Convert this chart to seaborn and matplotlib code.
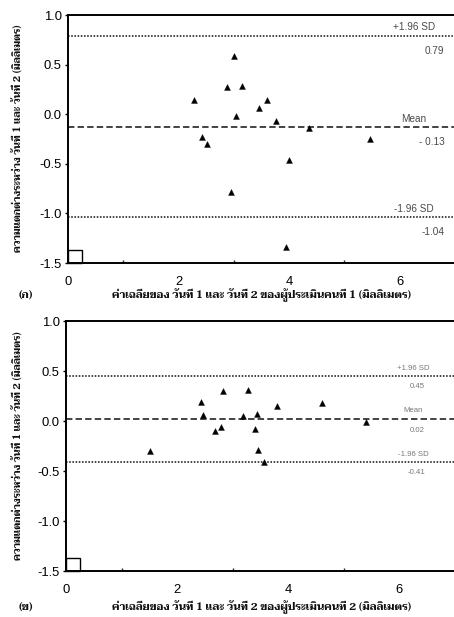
import matplotlib
matplotlib.use("Agg")
import matplotlib.pyplot as plt
from matplotlib import font_manager as fm
from matplotlib.patches import Rectangle
import seaborn as sns
import pandas as pd

# ---------------- data ----------------
mean1 = [2.28, 2.42, 2.51, 2.87, 3.00, 3.04, 3.15, 3.45, 3.60, 3.76, 4.36, 5.46, 3.99, 2.94, 3.94]
diff1 = [0.14, -0.23, -0.30, 0.27, 0.59, -0.02, 0.28, 0.06, 0.14, -0.07, -0.14, -0.25, -0.46, -0.78, -1.34]
lines1 = [0.79, -0.13, -1.04]
line_labels1 = ["+1.96 SD", "Mean", "-1.96 SD"]
value_labels1 = ["0.79", "- 0.13", "-1.04"]

mean2 = [1.51, 2.43, 2.47, 2.69, 2.79, 2.82, 3.19, 3.28, 3.41, 3.44, 3.46, 3.56, 3.80, 4.62, 5.41]
diff2 = [-0.30, 0.19, 0.06, -0.10, -0.06, 0.30, 0.05, 0.31, -0.08, 0.07, -0.29, -0.41, 0.15, 0.18, -0.01]
lines2 = [0.45, 0.02, -0.41]
line_labels2 = ["+1.96 SD", "Mean", "-1.96 SD"]
value_labels2 = ["0.45", "0.02", "-0.41"]

xticks = [0, 2, 4, 6]
yticks = [1.0, 0.5, 0.0, -0.5, -1.0, -1.5]
ylabel = "ความแตกต่างระหว่าง วันที่ 1 และ วันที่ 2 (มิลลิเมตร)"
xlabel1 = "ค่าเฉลี่ยของ วันที่ 1 และ วันที่ 2 ของผู้ประเมินคนที่ 1 (มิลลิเมตร)"
xlabel2 = "ค่าเฉลี่ยของ วันที่ 1 และ วันที่ 2 ของผู้ประเมินคนที่ 2 (มิลลิเมตร)"
panel_labels = ["(ก)", "(ข)"]

# ---------------- style ----------------
sns.set_theme(style="white")
plt.rcParams["font.family"] = ["Liberation Sans", "DejaVu Sans"]

names = {f.name for f in fm.fontManager.ttflist}
thai_font = None
for cand in ["Taviraj", "Trirong", "Sarabun", "Noto Serif Thai", "Pridi", "Noto Sans Thai",
             "Chonburi", "Athiti", "Bai Jamjuree", "Chakra Petch"]:
    if cand in names:
        thai_font = cand
        break
thai_family = [thai_font, "DejaVu Sans"] if thai_font else ["DejaVu Sans"]

W, H = 454, 617
fig = plt.figure(figsize=(W / 100, H / 100), dpi=100)
fig.patch.set_facecolor("white")

ax1 = fig.add_axes([68 / W, (H - 263) / H, 387 / W, 248 / H])
ax2 = fig.add_axes([66 / W, (H - 571) / H, 388.5 / W, 250 / H])


def draw_panel(ax, xs, ys, lines, llabels, vlabels, top):
    df = pd.DataFrame({"x": xs, "y": ys})
    sns.scatterplot(data=df, x="x", y="y", ax=ax, marker="^", s=18,
                    color="black", edgecolor="black", linewidth=0.3, zorder=3)
    styles = [(0, (1, 1)), (0, (4, 2)), (0, (1, 1))]
    for val, ls in zip(lines, styles):
        ax.axhline(val, color="#1a1a1a", lw=1.15, ls=ls, zorder=2)
    tcol = "#4a4a4a" if top else "#777777"
    fs = 7.2 if top else 5.6
    up = 8.5 if top else 8
    down = 15 if top else 11
    for val, ll, vl in zip(lines, llabels, vlabels):
        ax.annotate(ll, (6.26, val), xytext=(0, up), textcoords="offset pixels",
                    ha="center", va="center", fontsize=fs, color=tcol)
        if top:
            ax.annotate(vl, (6.81, val), xytext=(0, -down), textcoords="offset pixels",
                        ha="right", va="center", fontsize=fs, color=tcol)
        else:
            ax.annotate(vl, (6.32, val), xytext=(0, -down), textcoords="offset pixels",
                        ha="center", va="center", fontsize=fs, color=tcol)
    ax.set_xlim(0, 7)
    ax.set_ylim(-1.5, 1.0)
    ax.set_xticks(xticks)
    ax.set_xticks([1, 3, 5], minor=True)
    ax.set_yticks(yticks)
    ax.set_xticklabels([str(t) for t in xticks])
    ax.set_yticklabels([f"{t:.1f}" for t in yticks])
    ax.tick_params(axis="x", which="major", direction="in", length=4.3, width=1.2,
                   pad=9.5, labelsize=9.4, colors="black")
    ax.tick_params(axis="x", which="minor", direction="in", length=2.2, width=1.0, bottom=True)
    ax.tick_params(axis="y", which="major", direction="out", length=2.5, width=1.0,
                   pad=2, labelsize=9.4, colors="black", left=True)
    for side in ["top", "left", "bottom"]:
        ax.spines[side].set_visible(True)
        ax.spines[side].set_color("black")
        ax.spines[side].set_linewidth(1.4)
    ax.spines["right"].set_visible(False)
    ax.set_xlabel("")
    ax.set_ylabel("")
    ax.add_patch(Rectangle((0, 0), 14 / 387, 13 / 248, transform=ax.transAxes,
                           fill=False, edgecolor="black", lw=1.0, zorder=4, clip_on=False))


draw_panel(ax1, mean1, diff1, lines1, line_labels1, value_labels1, True)
draw_panel(ax2, mean2, diff2, lines2, line_labels2, value_labels2, False)


def fit_text(x, y, s, target, rotation=0, weight="bold", base=9.0):
    t = fig.text(x / W, 1 - y / H, s, ha="center", va="center", rotation=rotation,
                 fontsize=base, family=thai_family, fontweight=weight, color="#111111")
    fig.canvas.draw()
    bb = t.get_window_extent()
    size = bb.height if rotation else bb.width
    if size > 0:
        t.set_fontsize(base * target / size)
    return t


fit_text(18, 138, ylabel, 230, rotation=90)
fit_text(18, 446, ylabel, 232, rotation=90)
fit_text(262, 295, xlabel1, 300)
fit_text(262, 607, xlabel2, 300)
fig.text(26 / W, 1 - 295 / H, panel_labels[0], ha="center", va="center", fontsize=8,
         family=thai_family, fontweight="bold", color="#111111")
fig.text(26 / W, 1 - 607 / H, panel_labels[1], ha="center", va="center", fontsize=8,
         family=thai_family, fontweight="bold", color="#111111")

fig.savefig("out.png", dpi=100, facecolor="white")
